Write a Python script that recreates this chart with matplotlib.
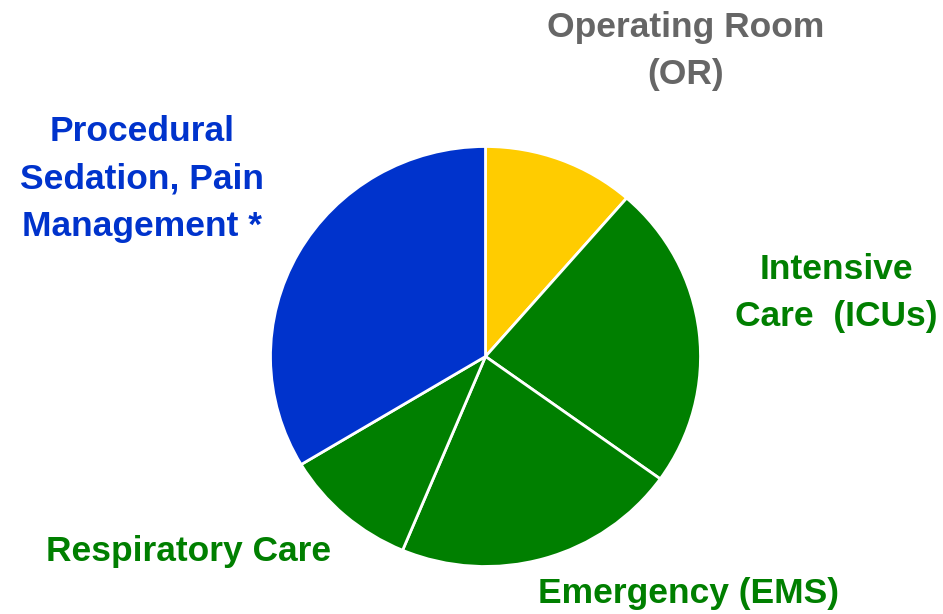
import matplotlib.pyplot as plt

labels = ["Operating Room\n(OR)", "Intensive\nCare  (ICUs)", "Emergency (EMS)",
          "Respiratory Care", "Procedural\nSedation, Pain\nManagement *"]
shares = [11.4, 23.5, 21.4, 10.1, 33.6]
slice_colors = ["#FFCC00", "#007F00", "#007F00", "#007F00", "#0033CC"]
label_colors = ["#666666", "#007F00", "#007F00", "#007F00", "#0033CC"]
# label centres in pixel coords (from top-left)
label_pos = [(686, 51), (836, 293), (689, 594), (189, 551), (142, 179)]

# pie is a touch wider than tall in the reference
k = 215 / 210.0
H = 614

fig = plt.figure(figsize=(9.43, 6.14), dpi=100)
ax = fig.add_axes([0, 0, 1, 1])
ax.pie(shares, colors=slice_colors, startangle=90, counterclock=False,
       center=(485.5, (H - 356.5) * k), radius=215,
       wedgeprops=dict(edgecolor="white", linewidth=2))
ax.set_aspect("auto")
ax.set_xlim(0, 943)
ax.set_ylim(0, H * k)
ax.axis("off")

for txt, c, (x, y) in zip(labels, label_colors, label_pos):
    ax.text(x, (H - y) * k, txt, color=c, ha="center", va="center",
            fontsize=25.5, fontweight="bold", family="Liberation Sans",
            linespacing=1.56)

fig.savefig("out.png", dpi=100)
